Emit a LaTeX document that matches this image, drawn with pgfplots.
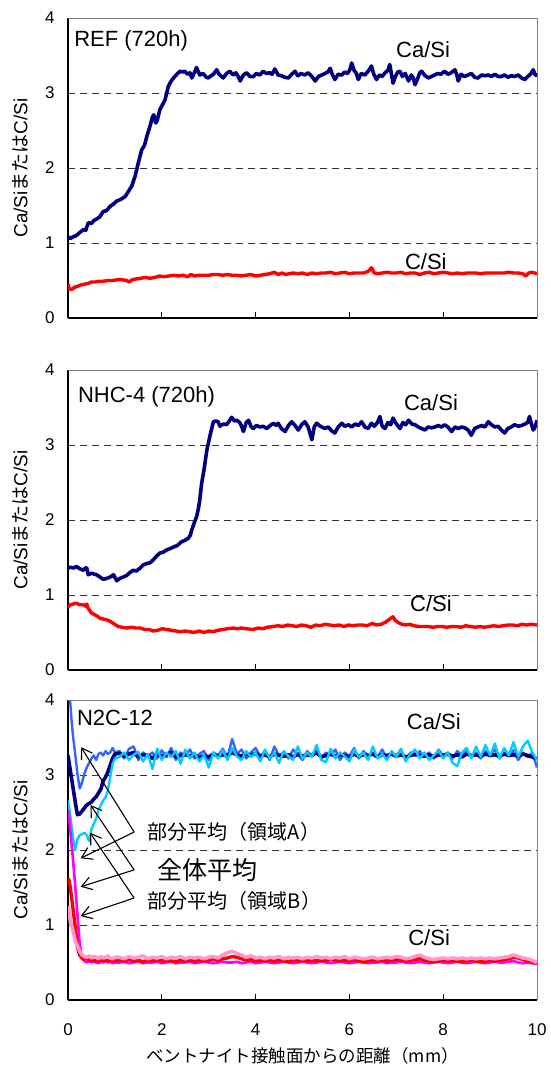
\documentclass[border=0pt]{standalone}
\usepackage{pgfplots}
\pgfplotsset{compat=1.18}
\usepackage{pgfplotstable}
\usetikzlibrary{arrows.meta}
\usepackage{fontspec}
\setmainfont{Liberation Sans}
\newfontfamily\jp{Noto Sans CJK JP}
\definecolor{cnavy}{RGB}{0,0,128}
\definecolor{cblue}{RGB}{51,102,255}
\definecolor{ccyan}{RGB}{0,204,255}
\definecolor{cred}{RGB}{255,0,0}
\definecolor{cmag}{RGB}{255,0,255}
\definecolor{cpink}{RGB}{255,153,204}

\pgfplotstableread{
x nv bl cy rd mg pk
0 3.26 4.35 2.66 1.62 2.53 1.25
0.02 3.18 4.22 2.58 1.6 2.45 1.2
0.05 3.06 3.95 2.45 1.5 2.25 1.05
0.08 2.94 3.7 2.3 1.35 2.05 0.98
0.11 2.82 3.5 2.15 1.2 1.85 0.92
0.15 2.66 3.3 2.0 1.0 1.55 0.8
0.2 2.47 3.02 2.14 0.7 1.15 0.72
0.25 2.48 2.82 2.2 0.6 0.75 0.65
0.3 2.52 2.9 2.21 0.56 0.55 0.6
0.35 2.56 3.02 2.23 0.55 0.52 0.58
0.4 2.6 3.1 2.2 0.55 0.5 0.57
0.45 2.62 3.16 2.12 0.53 0.52 0.59
0.5 2.64 3.22 2.28 0.54 0.5 0.56
0.55 2.68 3.26 2.35 0.52 0.51 0.58
0.6 2.71 3.2 2.42 0.53 0.5 0.57
0.65 2.76 3.28 2.53 0.52 0.49 0.55
0.7 2.81 3.3 2.6 0.54 0.51 0.58
0.75 2.92 3.26 2.66 0.52 0.5 0.56
0.8 2.97 3.32 2.7 0.53 0.52 0.57
0.85 3.04 3.28 2.79 0.52 0.5 0.59
0.9 3.13 3.3 2.97 0.53 0.51 0.56
0.95 3.22 3.36 3.15 0.52 0.49 0.55
1.0 3.28 3.3 3.22 0.53 0.5 0.57
1.1 3.29 3.32 3.24 0.53 0.5 0.57
1.2 3.25 3.22 3.3 0.52 0.51 0.55
1.3 3.28 3.35 3.2 0.54 0.49 0.58
1.4 3.3 3.38 3.27 0.52 0.5 0.56
1.5 3.24 3.2 3.31 0.53 0.51 0.57
1.6 3.27 3.3 3.18 0.51 0.49 0.59
1.7 3.26 3.25 3.28 0.53 0.5 0.55
1.8 3.22 3.3 3.08 0.52 0.5 0.57
1.9 3.28 3.22 3.35 0.54 0.51 0.56
2.0 3.25 3.33 3.2 0.52 0.49 0.58
2.1 3.27 3.24 3.3 0.53 0.5 0.55
2.2 3.3 3.36 3.24 0.52 0.51 0.57
2.3 3.24 3.2 3.32 0.51 0.49 0.56
2.4 3.26 3.3 3.15 0.53 0.5 0.58
2.5 3.28 3.25 3.34 0.52 0.5 0.55
2.6 3.25 3.34 3.22 0.53 0.51 0.57
2.7 3.27 3.22 3.3 0.52 0.49 0.56
2.8 3.23 3.28 3.18 0.53 0.5 0.57
2.9 3.26 3.32 3.27 0.52 0.51 0.55
3.0 3.24 3.2 3.1 0.53 0.5 0.57
3.1 3.28 3.3 3.3 0.54 0.49 0.58
3.2 3.25 3.26 3.22 0.53 0.5 0.56
3.3 3.27 3.35 3.33 0.55 0.51 0.6
3.4 3.26 3.24 3.2 0.56 0.5 0.63
3.5 3.3 3.48 3.36 0.58 0.5 0.65
3.6 3.27 3.28 3.25 0.57 0.51 0.62
3.7 3.25 3.34 3.2 0.55 0.49 0.6
3.8 3.28 3.22 3.32 0.53 0.5 0.57
3.9 3.26 3.3 3.24 0.54 0.51 0.59
4.0 3.29 3.36 3.3 0.52 0.49 0.56
4.1 3.25 3.25 3.18 0.53 0.5 0.57
4.2 3.27 3.32 3.34 0.52 0.51 0.55
4.3 3.24 3.2 3.22 0.53 0.5 0.57
4.4 3.28 3.38 3.3 0.52 0.49 0.56
4.5 3.26 3.26 3.16 0.53 0.5 0.58
4.6 3.25 3.3 3.32 0.52 0.51 0.55
4.7 3.27 3.22 3.25 0.51 0.5 0.57
4.8 3.24 3.34 3.2 0.53 0.49 0.56
4.9 3.28 3.27 3.38 0.52 0.5 0.57
5.0 3.25 3.2 3.22 0.53 0.51 0.55
5.1 3.27 3.32 3.3 0.52 0.5 0.57
5.2 3.26 3.25 3.24 0.53 0.49 0.56
5.3 3.3 3.36 3.4 0.52 0.5 0.58
5.4 3.24 3.22 3.2 0.53 0.51 0.56
5.5 3.26 3.3 3.17 0.52 0.5 0.57
5.6 3.28 3.26 3.35 0.54 0.49 0.55
5.7 3.25 3.34 3.22 0.53 0.5 0.57
5.8 3.27 3.2 3.3 0.52 0.51 0.56
5.9 3.26 3.3 3.25 0.53 0.5 0.58
6.0 3.24 3.25 3.18 0.52 0.49 0.55
6.1 3.28 3.36 3.34 0.53 0.5 0.57
6.2 3.25 3.22 3.24 0.52 0.51 0.56
6.3 3.27 3.32 3.3 0.51 0.5 0.55
6.4 3.26 3.26 3.2 0.52 0.49 0.56
6.5 3.28 3.3 3.38 0.53 0.5 0.57
6.6 3.24 3.24 3.22 0.52 0.5 0.55
6.7 3.27 3.34 3.28 0.53 0.51 0.56
6.8 3.26 3.22 3.2 0.52 0.49 0.57
6.9 3.28 3.3 3.32 0.53 0.5 0.56
7.0 3.25 3.26 3.24 0.54 0.5 0.58
7.1 3.27 3.34 3.35 0.53 0.51 0.57
7.2 3.24 3.2 3.18 0.52 0.5 0.55
7.3 3.26 3.3 3.28 0.53 0.49 0.56
7.4 3.28 3.25 3.34 0.54 0.5 0.58
7.5 3.26 3.32 3.22 0.55 0.51 0.6
7.6 3.25 3.24 3.3 0.53 0.5 0.57
7.7 3.27 3.3 3.2 0.52 0.49 0.55
7.8 3.24 3.22 3.26 0.51 0.5 0.54
7.9 3.27 3.34 3.33 0.52 0.51 0.55
8.0 3.26 3.26 3.22 0.53 0.5 0.56
8.1 3.28 3.3 3.3 0.52 0.49 0.55
8.2 3.25 3.22 3.16 0.53 0.5 0.56
8.3 3.27 3.32 3.12 0.52 0.51 0.55
8.4 3.24 3.26 3.3 0.51 0.5 0.56
8.5 3.28 3.34 3.36 0.52 0.49 0.55
8.6 3.26 3.24 3.22 0.53 0.5 0.56
8.7 3.27 3.3 3.38 0.52 0.51 0.55
8.8 3.25 3.22 3.24 0.51 0.5 0.56
8.9 3.28 3.32 3.4 0.52 0.49 0.55
9.0 3.26 3.26 3.26 0.53 0.5 0.56
9.1 3.27 3.34 3.42 0.52 0.51 0.55
9.2 3.25 3.22 3.22 0.53 0.5 0.56
9.3 3.28 3.3 3.36 0.54 0.5 0.57
9.4 3.26 3.25 3.26 0.55 0.51 0.58
9.5 3.27 3.33 3.44 0.57 0.52 0.6
9.6 3.25 3.2 3.24 0.56 0.5 0.58
9.7 3.28 3.3 3.38 0.54 0.49 0.56
9.8 3.26 3.24 3.46 0.52 0.5 0.55
9.9 3.24 3.3 3.3 0.51 0.49 0.53
10.0 3.22 3.1 3.2 0.49 0.48 0.5
}\tabC

\pgfplotsset{
  panel/.style={
    scale only axis, width=469pt, height=300pt,
    xmin=0, xmax=10, ymin=0, ymax=4,
    xtick={0,2,4,6,8,10}, ytick={0,1,2,3,4},
    axis x line*=bottom, axis y line*=left,
    axis line style={line width=1.2pt, black, -},
    tick align=inside,
    major tick length=6pt,
    xtick style={black, line width=0.8pt},
    ytick style={draw=none},
    ymajorgrids,
    grid style={black!80, line width=0.7pt, dash pattern=on 7pt off 5pt},
    /pgf/number format/assume math mode=true,
    tick label style={font=\fontsize{17}{17}\selectfont},
    yticklabel style={xshift=-10pt},
    xticklabel style={yshift=-20pt},
    ylabel={Ca/Si{\jp または}C/Si},
    ylabel style={at={(axis description cs:-0.102,0.5)}, anchor=center, font=\fontsize{19}{19}\selectfont},
    clip mode=individual,
  },
}
\tikzset{lbl/.style={font=\fontsize{22}{22}\selectfont, inner sep=0pt}}

\begin{document}
\begin{tikzpicture}
% ---------- Panel 1 : REF ----------
\begin{axis}[panel, at={(68pt,-18pt)}, anchor=north west, xticklabels={}]
\draw[gray, line width=0.8pt] (rel axis cs:0,1) -- (rel axis cs:1,1) -- (rel axis cs:1,0);
\addplot[cnavy, line width=3.6pt, line join=round] coordinates {
(0,1.08) (0.05,1.06) (0.1,1.08) (0.18,1.1) (0.25,1.14) (0.33,1.18) (0.38,1.17) (0.43,1.27) (0.5,1.26) (0.55,1.3) (0.61,1.32) (0.68,1.35) (0.75,1.42) (0.82,1.43) (0.9,1.49) (0.97,1.52) (1.04,1.56) (1.12,1.58) (1.22,1.62) (1.29,1.69) (1.36,1.76) (1.43,1.89) (1.5,2.07) (1.57,2.24) (1.63,2.3) (1.68,2.42) (1.75,2.56) (1.8,2.68) (1.83,2.71) (1.87,2.6) (1.9,2.63) (1.96,2.78) (2.02,2.85) (2.07,2.91) (2.14,3.09) (2.2,3.16) (2.25,3.2) (2.32,3.25) (2.39,3.29) (2.45,3.28) (2.49,3.29) (2.55,3.25) (2.6,3.27) (2.64,3.2) (2.7,3.28) (2.74,3.34) (2.81,3.24) (2.88,3.26) (2.95,3.21) (2.99,3.2) (3.05,3.23) (3.1,3.25) (3.17,3.31) (3.22,3.25) (3.31,3.2) (3.38,3.26) (3.45,3.29) (3.52,3.24) (3.58,3.27) (3.63,3.22) (3.67,3.16) (3.74,3.24) (3.81,3.27) (3.88,3.22) (3.95,3.22) (4.02,3.26) (4.09,3.24) (4.16,3.29) (4.23,3.26) (4.3,3.27) (4.35,3.25) (4.41,3.32) (4.48,3.24) (4.55,3.23) (4.62,3.21) (4.7,3.2) (4.77,3.25) (4.84,3.29) (4.9,3.23) (4.97,3.26) (5.05,3.24) (5.12,3.27) (5.2,3.22) (5.27,3.16) (5.34,3.22) (5.41,3.24) (5.48,3.26) (5.54,3.28) (5.59,3.33) (5.64,3.24) (5.69,3.18) (5.76,3.25) (5.84,3.24) (5.9,3.28) (5.96,3.26) (6.01,3.31) (6.05,3.4) (6.1,3.3) (6.14,3.27) (6.19,3.18) (6.25,3.26) (6.33,3.24) (6.4,3.29) (6.47,3.36) (6.52,3.25) (6.58,3.18) (6.64,3.24) (6.7,3.22) (6.76,3.27) (6.82,3.3) (6.86,3.38) (6.9,3.24) (6.93,3.13) (6.98,3.22) (7.03,3.28) (7.08,3.29) (7.13,3.22) (7.19,3.26) (7.26,3.16) (7.32,3.24) (7.36,3.2) (7.4,3.11) (7.46,3.2) (7.5,3.27) (7.54,3.29) (7.6,3.24) (7.68,3.2) (7.75,3.22) (7.82,3.24) (7.88,3.26) (7.95,3.25) (8.03,3.29) (8.1,3.25) (8.17,3.27) (8.25,3.31) (8.29,3.24) (8.32,3.16) (8.38,3.25) (8.45,3.22) (8.53,3.24) (8.6,3.26) (8.67,3.21) (8.74,3.2) (8.82,3.24) (8.89,3.23) (8.96,3.24) (9.03,3.22) (9.1,3.25) (9.17,3.22) (9.24,3.22) (9.31,3.24) (9.38,3.21) (9.45,3.23) (9.52,3.22) (9.6,3.24) (9.67,3.2) (9.74,3.18) (9.8,3.22) (9.86,3.25) (9.92,3.31) (9.96,3.24) (10,3.24)
};
\addplot[cred, line width=3.4pt, line join=round] coordinates {
(0,0.45) (0.03,0.39) (0.08,0.38) (0.14,0.41) (0.2,0.42) (0.27,0.44) (0.35,0.45) (0.42,0.46) (0.5,0.48) (0.58,0.48) (0.66,0.49) (0.75,0.49) (0.85,0.5) (0.95,0.5) (1.05,0.51) (1.15,0.51) (1.25,0.5) (1.3,0.48) (1.37,0.51) (1.45,0.52) (1.55,0.53) (1.65,0.54) (1.75,0.53) (1.85,0.54) (1.95,0.56) (2.05,0.55) (2.15,0.56) (2.25,0.57) (2.35,0.56) (2.45,0.57) (2.55,0.55) (2.62,0.58) (2.7,0.56) (2.8,0.57) (2.9,0.57) (3.0,0.57) (3.1,0.58) (3.2,0.58) (3.3,0.57) (3.4,0.58) (3.5,0.57) (3.6,0.57) (3.7,0.56) (3.8,0.57) (3.9,0.58) (4.0,0.56) (4.1,0.57) (4.2,0.58) (4.3,0.59) (4.4,0.61) (4.48,0.58) (4.56,0.6) (4.64,0.58) (4.72,0.59) (4.8,0.6) (4.9,0.59) (5.0,0.6) (5.1,0.58) (5.2,0.6) (5.3,0.59) (5.4,0.6) (5.5,0.6) (5.6,0.61) (5.7,0.59) (5.8,0.6) (5.9,0.61) (6.0,0.59) (6.1,0.6) (6.2,0.6) (6.3,0.6) (6.4,0.62) (6.47,0.67) (6.53,0.6) (6.6,0.59) (6.7,0.6) (6.8,0.61) (6.9,0.6) (7.0,0.6) (7.1,0.61) (7.2,0.59) (7.3,0.6) (7.4,0.6) (7.5,0.58) (7.6,0.6) (7.7,0.61) (7.8,0.59) (7.9,0.6) (8.0,0.61) (8.1,0.6) (8.2,0.59) (8.3,0.6) (8.4,0.59) (8.5,0.6) (8.6,0.6) (8.7,0.6) (8.8,0.59) (8.9,0.6) (9.0,0.6) (9.1,0.6) (9.2,0.6) (9.3,0.6) (9.4,0.61) (9.5,0.6) (9.6,0.6) (9.7,0.59) (9.76,0.56) (9.82,0.6) (9.9,0.61) (10,0.59)
};
\node[lbl, anchor=west] at (axis cs:0.13,3.7) {REF (720h)};
\node[lbl] at (axis cs:7.57,3.58) {Ca/Si};
\node[lbl] at (axis cs:7.63,0.75) {C/Si};
\end{axis}

% ---------- Panel 2 : NHC-4 ----------
\begin{axis}[panel, at={(68pt,-370pt)}, anchor=north west, xticklabels={}]
\draw[gray, line width=0.8pt] (rel axis cs:0,1) -- (rel axis cs:1,1) -- (rel axis cs:1,0);
\addplot[cnavy, line width=3.6pt, line join=round] coordinates {
(0,1.36) (0.06,1.37) (0.12,1.36) (0.18,1.38) (0.25,1.35) (0.33,1.33) (0.37,1.36) (0.4,1.36) (0.43,1.27) (0.5,1.29) (0.55,1.28) (0.61,1.27) (0.68,1.24) (0.75,1.21) (0.82,1.22) (0.9,1.24) (0.97,1.27) (1.04,1.19) (1.1,1.22) (1.18,1.24) (1.25,1.26) (1.32,1.3) (1.39,1.33) (1.46,1.32) (1.54,1.36) (1.6,1.4) (1.68,1.42) (1.75,1.43) (1.82,1.47) (1.89,1.52) (1.96,1.56) (2.03,1.57) (2.1,1.6) (2.18,1.62) (2.25,1.64) (2.33,1.66) (2.42,1.71) (2.5,1.73) (2.57,1.76) (2.61,1.8) (2.64,1.87) (2.69,1.96) (2.74,2.04) (2.78,2.15) (2.81,2.27) (2.85,2.49) (2.9,2.67) (2.96,2.93) (3.03,3.13) (3.1,3.31) (3.15,3.32) (3.2,3.31) (3.24,3.25) (3.28,3.27) (3.33,3.28) (3.38,3.27) (3.44,3.32) (3.49,3.37) (3.55,3.32) (3.6,3.33) (3.66,3.3) (3.7,3.25) (3.74,3.18) (3.8,3.3) (3.85,3.33) (3.9,3.25) (3.95,3.22) (4.02,3.26) (4.09,3.24) (4.16,3.25) (4.24,3.22) (4.31,3.26) (4.38,3.29) (4.44,3.26) (4.48,3.29) (4.55,3.22) (4.63,3.18) (4.7,3.26) (4.77,3.31) (4.84,3.26) (4.91,3.2) (4.98,3.27) (5.05,3.31) (5.12,3.24) (5.2,3.07) (5.25,3.24) (5.3,3.29) (5.38,3.25) (5.48,3.22) (5.55,3.24) (5.62,3.19) (5.69,3.16) (5.76,3.24) (5.84,3.29) (5.9,3.25) (5.98,3.27) (6.05,3.24) (6.12,3.28) (6.19,3.26) (6.26,3.31) (6.33,3.24) (6.4,3.22) (6.47,3.29) (6.53,3.25) (6.6,3.3) (6.65,3.38) (6.7,3.25) (6.76,3.22) (6.82,3.3) (6.88,3.27) (6.93,3.36) (6.98,3.3) (7.03,3.26) (7.08,3.22) (7.14,3.3) (7.2,3.27) (7.26,3.33) (7.33,3.28) (7.4,3.27) (7.47,3.24) (7.54,3.22) (7.61,3.2) (7.68,3.24) (7.75,3.23) (7.82,3.24) (7.9,3.26) (7.96,3.24) (8.03,3.27) (8.1,3.24) (8.18,3.18) (8.25,3.24) (8.32,3.22) (8.39,3.24) (8.46,3.23) (8.53,3.2) (8.6,3.13) (8.67,3.22) (8.74,3.24) (8.82,3.26) (8.89,3.24) (8.96,3.31) (9.03,3.27) (9.1,3.24) (9.17,3.25) (9.24,3.2) (9.31,3.16) (9.38,3.22) (9.45,3.24) (9.52,3.27) (9.6,3.25) (9.67,3.26) (9.74,3.28) (9.8,3.3) (9.84,3.38) (9.88,3.28) (9.92,3.2) (9.96,3.24) (10,3.33)
};
\addplot[cred, line width=3.4pt, line join=round] coordinates {
(0,0.84) (0.05,0.87) (0.11,0.88) (0.18,0.89) (0.25,0.87) (0.33,0.87) (0.38,0.85) (0.4,0.88) (0.43,0.82) (0.47,0.79) (0.5,0.76) (0.56,0.74) (0.62,0.72) (0.68,0.69) (0.75,0.68) (0.82,0.67) (0.9,0.65) (0.97,0.62) (1.02,0.6) (1.07,0.58) (1.15,0.57) (1.25,0.56) (1.35,0.57) (1.45,0.56) (1.54,0.56) (1.64,0.54) (1.73,0.54) (1.82,0.52) (1.92,0.53) (2.01,0.55) (2.1,0.54) (2.2,0.53) (2.3,0.52) (2.39,0.51) (2.5,0.52) (2.6,0.51) (2.68,0.5) (2.74,0.51) (2.8,0.52) (2.9,0.5) (3.0,0.52) (3.1,0.51) (3.2,0.53) (3.3,0.54) (3.4,0.55) (3.53,0.56) (3.6,0.55) (3.7,0.56) (3.8,0.55) (3.95,0.54) (4.05,0.56) (4.15,0.55) (4.25,0.57) (4.38,0.58) (4.48,0.59) (4.58,0.58) (4.68,0.6) (4.78,0.59) (4.88,0.58) (4.98,0.6) (5.08,0.59) (5.18,0.57) (5.28,0.6) (5.38,0.59) (5.48,0.61) (5.58,0.6) (5.68,0.59) (5.78,0.6) (5.88,0.58) (5.98,0.6) (6.08,0.59) (6.18,0.6) (6.28,0.6) (6.38,0.59) (6.48,0.62) (6.58,0.6) (6.68,0.61) (6.78,0.64) (6.86,0.68) (6.93,0.71) (6.98,0.66) (7.05,0.63) (7.12,0.61) (7.2,0.6) (7.28,0.61) (7.38,0.59) (7.48,0.58) (7.58,0.58) (7.68,0.58) (7.78,0.57) (7.88,0.58) (7.98,0.58) (8.08,0.57) (8.18,0.58) (8.28,0.58) (8.38,0.57) (8.48,0.59) (8.58,0.58) (8.68,0.57) (8.78,0.58) (8.88,0.57) (8.98,0.58) (9.08,0.59) (9.18,0.58) (9.28,0.59) (9.38,0.6) (9.48,0.6) (9.58,0.59) (9.68,0.61) (9.78,0.6) (9.88,0.61) (10,0.6)
};
\node[lbl, anchor=west] at (axis cs:0.21,3.64) {NHC-4 (720h)};
\node[lbl] at (axis cs:7.74,3.56) {Ca/Si};
\node[lbl] at (axis cs:7.74,0.89) {C/Si};
\end{axis}

% ---------- Panel 3 : N2C-12 ----------
\begin{axis}[panel, at={(68pt,-700pt)}, anchor=north west,
  xlabel={{\jp ベントナイト接触面からの距離（mm）}},
  xlabel style={at={(axis description cs:0.5,-0.187)}, anchor=center, font=\fontsize{17.5}{17.5}\selectfont}]
\draw[gray, line width=0.8pt] (rel axis cs:0,1) -- (rel axis cs:1,1) -- (rel axis cs:1,0);
\addplot[cblue, line width=2.4pt, line join=round] table[x=x,y=bl] {\tabC};
\addplot[cnavy, line width=3.6pt, line join=round] table[x=x,y=nv] {\tabC};
\addplot[ccyan, line width=2.4pt, line join=round] table[x=x,y=cy] {\tabC};
\addplot[cmag, line width=2.6pt, line join=round] table[x=x,y=mg] {\tabC};
\addplot[cred, line width=3.4pt, line join=round] table[x=x,y=rd] {\tabC};
\addplot[cpink, line width=3.6pt, line join=round] table[x=x,y=pk] {\tabC};
\node[lbl, anchor=west] at (axis cs:0.19,3.76) {N2C-12};
\node[lbl] at (axis cs:7.8,3.71) {Ca/Si};
\node[lbl] at (axis cs:7.7,0.83) {C/Si};
\node[anchor=west, inner sep=0pt, font=\fontsize{20}{20}\selectfont\jp] at (axis cs:1.7,2.24) {部分平均（領域A）};
\node[anchor=west, inner sep=0pt, font=\fontsize{25}{25}\selectfont\jp] at (axis cs:1.9,1.73) {全体平均};
\node[anchor=west, inner sep=0pt, font=\fontsize{20}{20}\selectfont\jp] at (axis cs:1.7,1.32) {部分平均（領域B）};
\begin{scope}[black, line width=1.1pt, -{Straight Barb[length=10pt,width=13pt]}]
\draw (axis cs:1.41,2.24) -- (axis cs:0.28,3.37);
\draw (axis cs:1.41,2.24) -- (axis cs:0.27,1.89);
\draw (axis cs:1.41,1.735) -- (axis cs:0.48,2.6);
\draw (axis cs:1.41,1.735) -- (axis cs:0.27,1.51);
\draw (axis cs:1.41,1.36) -- (axis cs:0.47,2.23);
\draw (axis cs:1.41,1.36) -- (axis cs:0.27,1.12);
\end{scope}
\end{axis}
\pgfresetboundingbox
\path[use as bounding box] (0pt,0pt) rectangle (551pt,-1070pt);
\end{tikzpicture}
\end{document}
